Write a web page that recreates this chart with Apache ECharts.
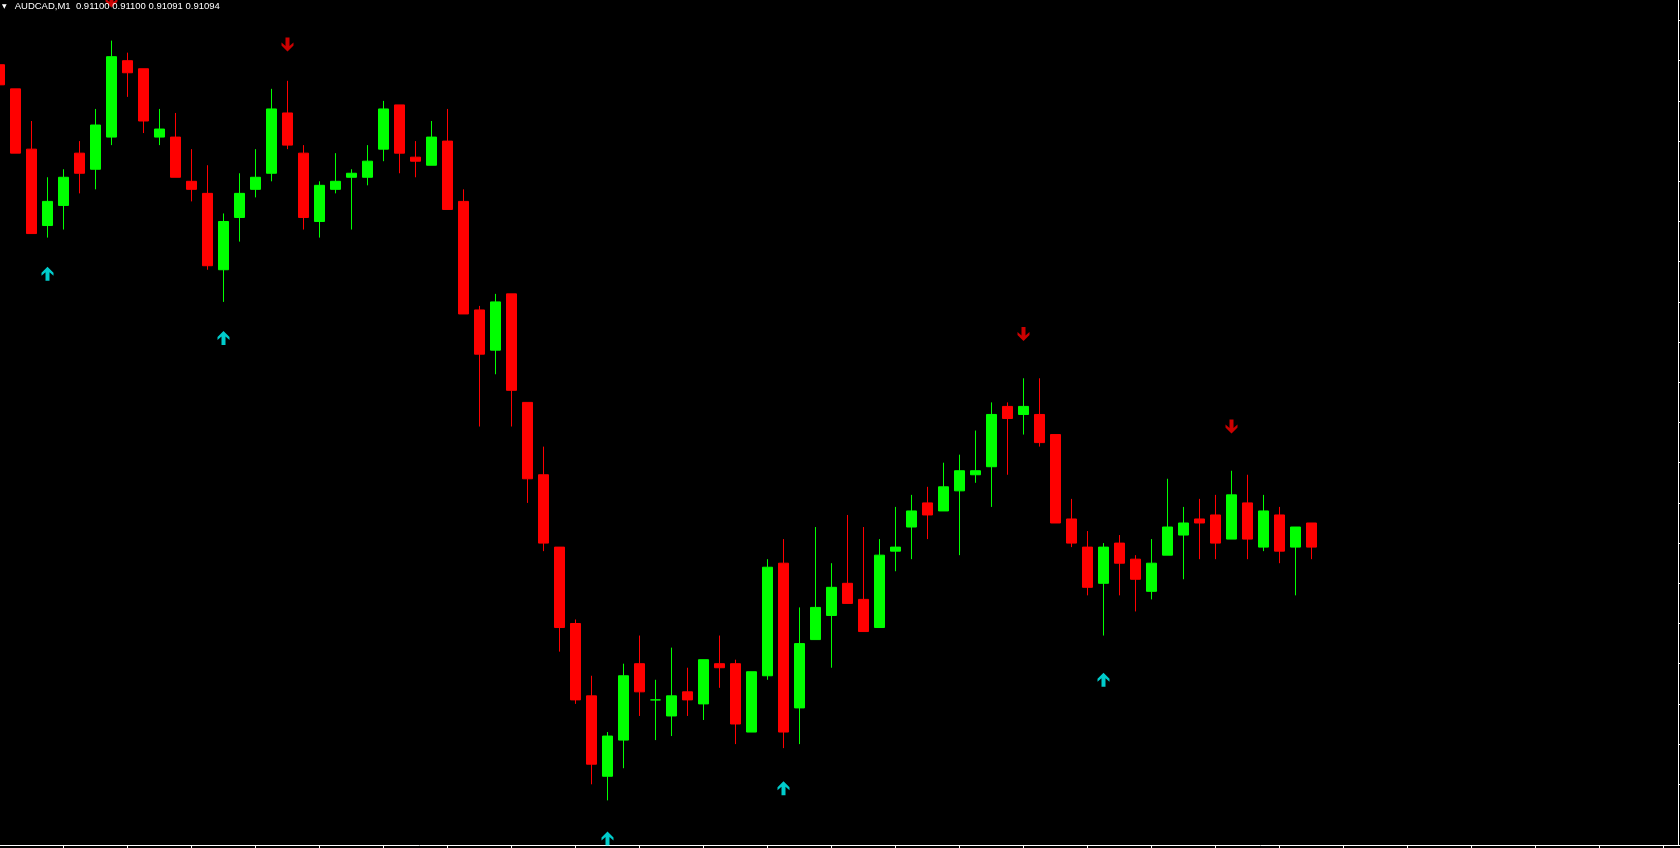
<!DOCTYPE html>
<html>
<head>
<meta charset="utf-8">
<script src="https://cdn.jsdelivr.net/npm/echarts@6/dist/echarts.min.js"></script>
<style>
  html, body { margin: 0; padding: 0; background: #000; }
  #chart { width: 1680px; height: 848px; }
</style>
</head>
<body>
<div id="chart"></div>
<script>
const symbol = 'AUDCAD'
const period = 'M1'

// one-minute bars, oldest first
const opens = [0.91214,0.91208,0.91193,0.91174,0.91179,0.91192,0.91188,0.91196,0.91215,0.91213,
  0.91196,0.91196,0.91185,0.91182,0.91163,0.91176,0.91183,0.91187,0.91202,0.91192,
  0.91175,0.91183,0.91186,0.91186,0.91193,0.91204,0.91191,0.91189,0.91195,0.91180,
  0.91153,0.91143,0.91157,0.91130,0.91112,0.91094,0.91075,0.91057,0.91037,0.91046,
  0.91065,0.91056,0.91052,0.91058,0.91055,0.91065,0.91065,0.91048,0.91062,0.91090,
  0.91054,0.91071,0.91077,0.91085,0.91081,0.91074,0.91093,0.91099,0.91105,0.91103,
  0.91108,0.91112,0.91114,0.91129,0.91127,0.91127,0.91122,0.91101,0.91094,0.91085,
  0.91095,0.91091,0.91083,0.91092,0.91097,0.91101,0.91102,0.91096,0.91105,0.91094,
  0.91102,0.91094,0.91100]
const highs = [0.91214,0.91208,0.91200,0.91186,0.91188,0.91195,0.91203,0.91220,0.91217,0.91213,
  0.91203,0.91202,0.91193,0.91189,0.91177,0.91187,0.91193,0.91208,0.91210,0.91194,
  0.91185,0.91192,0.91188,0.91194,0.91205,0.91204,0.91195,0.91200,0.91203,0.91183,
  0.91154,0.91157,0.91157,0.91130,0.91119,0.91094,0.91076,0.91062,0.91048,0.91065,
  0.91072,0.91061,0.91069,0.91064,0.91066,0.91072,0.91066,0.91063,0.91091,0.91096,
  0.91079,0.91099,0.91090,0.91102,0.91099,0.91096,0.91104,0.91107,0.91109,0.91115,
  0.91117,0.91123,0.91130,0.91130,0.91136,0.91136,0.91122,0.91106,0.91098,0.91095,
  0.91097,0.91092,0.91096,0.91111,0.91104,0.91106,0.91107,0.91113,0.91112,0.91107,
  0.91104,0.91099,0.91100]
const lows = [0.91209,0.91192,0.91172,0.91171,0.91173,0.91182,0.91183,0.91194,0.91206,0.91197,
  0.91194,0.91186,0.91180,0.91163,0.91155,0.91170,0.91181,0.91185,0.91193,0.91173,
  0.91171,0.91182,0.91173,0.91184,0.91190,0.91187,0.91186,0.91189,0.91178,0.91152,
  0.91124,0.91137,0.91124,0.91105,0.91093,0.91068,0.91055,0.91035,0.91031,0.91039,
  0.91052,0.91046,0.91047,0.91052,0.91051,0.91059,0.91045,0.91048,0.91061,0.91044,
  0.91045,0.91071,0.91064,0.91080,0.91073,0.91074,0.91088,0.91091,0.91096,0.91103,
  0.91092,0.91110,0.91104,0.91112,0.91122,0.91119,0.91100,0.91094,0.91082,0.91072,
  0.91082,0.91078,0.91081,0.91092,0.91086,0.91091,0.91091,0.91096,0.91091,0.91093,
  0.91090,0.91082,0.91091]
const closes = [0.91209,0.91192,0.91172,0.91180,0.91186,0.91187,0.91199,0.91216,0.91212,0.91200,
  0.91198,0.91186,0.91183,0.91164,0.91175,0.91182,0.91186,0.91203,0.91194,0.91176,
  0.91184,0.91185,0.91187,0.91190,0.91203,0.91192,0.91190,0.91196,0.91178,0.91152,
  0.91142,0.91155,0.91133,0.91111,0.91095,0.91074,0.91056,0.91040,0.91047,0.91062,
  0.91058,0.91056,0.91057,0.91056,0.91066,0.91064,0.91050,0.91063,0.91089,0.91048,
  0.91070,0.91079,0.91084,0.91080,0.91073,0.91092,0.91094,0.91103,0.91102,0.91109,
  0.91113,0.91113,0.91127,0.91126,0.91129,0.91120,0.91100,0.91095,0.91084,0.91094,
  0.91090,0.91086,0.91090,0.91099,0.91100,0.91100,0.91095,0.91107,0.91096,0.91103,
  0.91093,0.91099,0.91094]

// signal arrows: bar index and indicator value
const upBars = [3, 14, 38, 49, 69]
const upValues = [0.91162, 0.91146, 0.910215, 0.91034, 0.91061]
const downBars = [7, 18, 64, 77]
const downValues = [0.91230, 0.91219, 0.91147, 0.91124]

// price scale ticks (labels sit off-screen)
const priceTicks = [0.91035,0.91045,0.91055,0.91065,0.91075,0.91085,0.91095,0.91105,0.91115,0.91125,
  0.91135,0.91145,0.91155,0.91165,0.91175,0.91185,0.91195,0.91205,0.91215,0.91225]
const priceMin = 0.910199
const priceMax = 0.912301
const slots = 106 // visible bar slots incl. empty space on the right

const categories = Array.from({ length: slots }, (_, i) => String(i))
const candles = opens.map((o, i) => [o, closes[i], lows[i], highs[i]])
const last = opens.length - 1
const header = symbol + ',' + period + '  ' +
  [opens[last], highs[last], lows[last], closes[last]].map(v => v.toFixed(5)).join(' ')

// thick wingdings-like arrows
const upArrow = 'path://M6,0L12,6L12,9L8,5.5L8,14L4,14L4,5.5L0,9L0,6Z'
const downArrow = 'path://M6,14L12,8L12,5L8,8.5L8,0L4,0L4,8.5L0,5L0,8Z'

const chart = echarts.init(document.getElementById('chart'))
chart.setOption({
  backgroundColor: '#000000',
  animation: false,
  title: {
    text: '{t|▼}' + header,
    left: 2,
    top: 0,
    padding: 0,
    z: 10,
    textStyle: {
      color: '#ffffff',
      fontFamily: 'Liberation Sans',
      fontSize: 9.5,
      fontWeight: 'normal',
      lineHeight: 12,
      rich: {
        t: { fontSize: 6, width: 12.7, color: '#ffffff', fontFamily: 'DejaVu Sans' }
      }
    }
  },
  grid: {
    left: -8.5,
    top: 0,
    width: 16 * slots,
    height: 845,
    outerBoundsMode: 'none',
    containLabel: false
  },
  xAxis: {
    type: 'category',
    data: categories,
    boundaryGap: true,
    axisLine: { lineStyle: { color: '#ffffff', width: 1 } },
    axisTick: { show: true, alignWithLabel: true, interval: 3, length: 3, lineStyle: { color: '#ffffff' } },
    axisLabel: { show: false },
    splitLine: { show: false }
  },
  yAxis: {
    type: 'value',
    position: 'right',
    offset: -9,
    min: priceMin,
    max: priceMax,
    axisLine: { show: true, lineStyle: { color: '#ffffff', width: 1 } },
    axisTick: { show: true, length: 3, customValues: priceTicks, lineStyle: { color: '#ffffff' } },
    axisLabel: { show: false },
    splitLine: { show: false }
  },
  series: [
    {
      type: 'candlestick',
      data: candles,
      barWidth: 10,
      itemStyle: {
        color: '#00ff00',
        color0: '#ff0000',
        borderColor: '#00ff00',
        borderColor0: '#ff0000',
        borderColorDoji: '#00ff00',
        borderWidth: 1
      }
    },
    {
      type: 'scatter',
      data: upBars.map((b, i) => [b, upValues[i]]),
      symbol: upArrow,
      symbolSize: [12, 14],
      itemStyle: { color: '#00ffff' },
      z: 5
    },
    {
      type: 'scatter',
      data: downBars.map((b, i) => [b, downValues[i]]),
      symbol: downArrow,
      symbolSize: [12, 14],
      itemStyle: { color: '#ff0000' },
      z: 5
    }
  ]
})
</script>
</body>
</html>
